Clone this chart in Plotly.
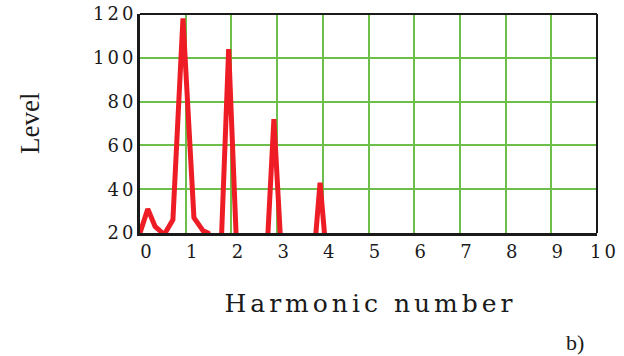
import plotly.graph_objects as go

harmonic = [0, 0.17, 0.33, 0.49, 0.55, 0.72, 0.94, 1.18, 1.38, 1.49, 1.75, 1.94, 2.14, 2.35, 2.55, 2.75, 2.93, 3.12, 3.35, 3.55, 3.77, 3.94, 4.12, 4.5, 5, 6, 7, 8, 9, 10]
level = [20, 31, 23, 20, 20, 26, 118, 27, 21, 20, 0, 104, 0, 0, 0, 0, 72, 0, 0, 0, 0, 43, 0, 0, 0, 0, 0, 0, 0, 0]

x_ticks = [0, 1, 2, 3, 4, 5, 6, 7, 8, 9, 10]
y_ticks = [20, 40, 60, 80, 100, 120]

FONT = "DejaVu Serif"
GRID = "#6cbf4a"
INK = "#1a1a1a"


def spaced(s, px):
    # letter spacing on all but the last character (no trailing gap)
    if len(s) <= 1:
        return s
    return f'<span style="letter-spacing:{px}px">{s[:-1]}</span>{s[-1]}'


fig = go.Figure()
fig.add_trace(go.Scatter(x=harmonic, y=level, mode="lines",
                         line=dict(color="#ee1c25", width=5), showlegend=False))

fig.update_layout(
    width=624, height=356,
    margin=dict(l=140, r=27, t=14, b=123),
    paper_bgcolor="white", plot_bgcolor="white",
    font=dict(family=FONT, color=INK),
    xaxis=dict(range=[0, 10], tickvals=x_ticks,
               ticktext=[spaced(str(v), 3) for v in x_ticks],
               showgrid=True, gridcolor=GRID, gridwidth=2,
               showline=True, linecolor=INK, linewidth=3,
               ticks="", tickfont=dict(family=FONT, size=18, color=INK), ticklabelshift=6,
               zeroline=False, automargin=False,
               title=dict(text=spaced("Harmonic number", 4),
                          font=dict(family=FONT, size=25, color=INK), standoff=34)),
    yaxis=dict(range=[20, 120], tickvals=y_ticks,
               ticktext=[spaced(str(v), 3) for v in y_ticks],
               showgrid=True, gridcolor=GRID, gridwidth=2,
               showline=True, linecolor=INK, linewidth=3,
               ticks="", tickfont=dict(family=FONT, size=18, color=INK), ticklabelstandoff=0,
               zeroline=False, automargin=False),
    shapes=[
        dict(type="line", xref="paper", yref="paper", x0=0, x1=1, y0=1, y1=1,
             line=dict(color=INK, width=2)),
        dict(type="line", xref="paper", yref="paper", x0=1, x1=1, y0=0, y1=1,
             line=dict(color=INK, width=2)),
    ],
    annotations=[
        dict(text="Level", xref="paper", yref="paper", x=-0.242, y=0.5,
             textangle=-90, showarrow=False, font=dict(family="Liberation Serif", size=27, color=INK),
             xanchor="center", yanchor="middle"),
        dict(text="b)", xref="paper", yref="paper", x=0.975, y=-0.5,
             showarrow=False, font=dict(family="Liberation Serif", size=22, color=INK),
             xanchor="right", yanchor="middle"),
    ],
)

fig.write_html("out.html")
